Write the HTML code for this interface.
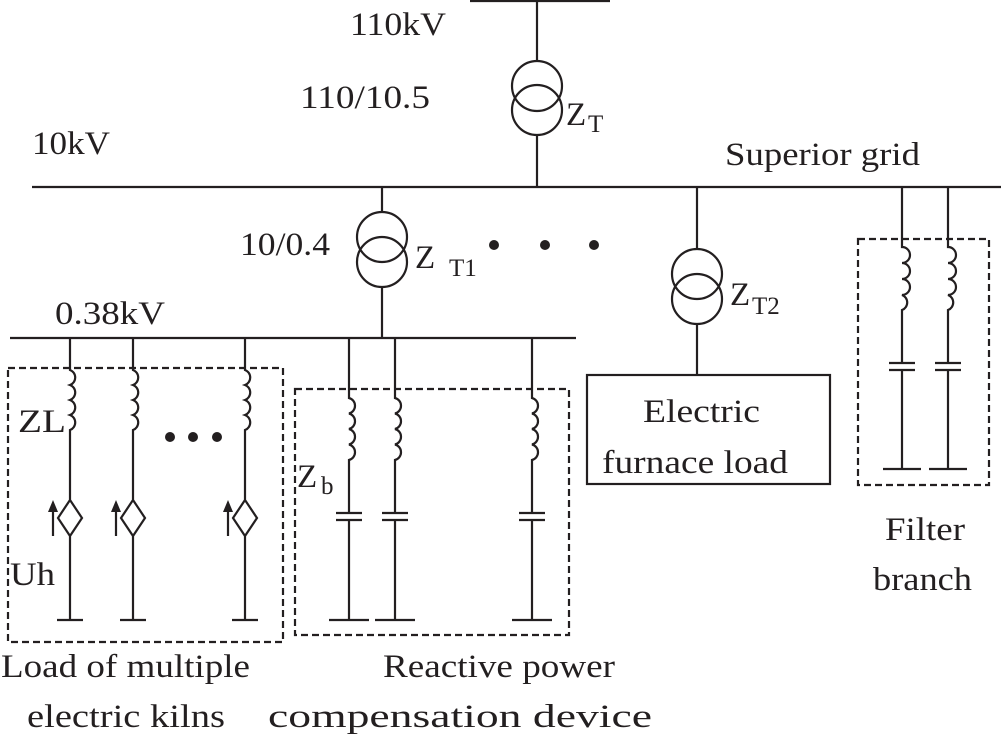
<!DOCTYPE html>
<html><head><meta charset="utf-8"><style>
html,body{margin:0;padding:0;background:#fff;}
svg{display:block;}
</style></head><body>
<svg width="1001" height="739" viewBox="0 0 1001 739" xmlns="http://www.w3.org/2000/svg">
<g stroke="#231f20" stroke-width="2.2" fill="none">
<line x1="470" y1="1" x2="610" y2="1"/>
<line x1="32" y1="187" x2="1001" y2="187"/>
<line x1="10" y1="338" x2="576" y2="338"/>
<line x1="537" y1="1" x2="537" y2="61"/>
<circle cx="537" cy="86" r="25"/>
<circle cx="537" cy="110" r="25"/>
<line x1="537" y1="135" x2="537" y2="187"/>
<line x1="382" y1="187" x2="382" y2="212"/>
<circle cx="382" cy="237" r="25"/>
<circle cx="382" cy="262" r="25"/>
<line x1="382" y1="287" x2="382" y2="338"/>
<line x1="697" y1="187" x2="697" y2="249"/>
<circle cx="697" cy="274" r="25"/>
<circle cx="697" cy="299" r="25"/>
<line x1="697" y1="324" x2="697" y2="375"/>
<rect x="587" y="375" width="243" height="109"/>
<path d="M902 187 V247 a8 8 0 0 1 0 16 a8 8 0 0 1 0 16 a8 8 0 0 1 0 16 a8 8 0 0 1 0 15 V363 M889 363 H915 M889 370 H915 M902 370 V469 M883 469 H921"/>
<path d="M948 187 V247 a8 8 0 0 1 0 16 a8 8 0 0 1 0 16 a8 8 0 0 1 0 16 a8 8 0 0 1 0 15 V363 M935 363 H961 M935 370 H961 M948 370 V469 M929 469 H967"/>
<rect x="858" y="239" width="131" height="246" stroke-dasharray="7,4"/>
<path d="M349 338 V398 a8 8 0 0 1 0 15.5 a8 8 0 0 1 0 15.5 a8 8 0 0 1 0 15.5 a8 8 0 0 1 0 15.5 V513 M336 513 H362 M336 520 H362 M349 520 V620 M329 620 H369"/>
<path d="M395 338 V398 a8 8 0 0 1 0 15.5 a8 8 0 0 1 0 15.5 a8 8 0 0 1 0 15.5 a8 8 0 0 1 0 15.5 V513 M382 513 H408 M382 520 H408 M395 520 V620 M375 620 H415"/>
<path d="M532 338 V398 a8 8 0 0 1 0 15.5 a8 8 0 0 1 0 15.5 a8 8 0 0 1 0 15.5 a8 8 0 0 1 0 15.5 V513 M519 513 H545 M519 520 H545 M532 520 V620 M512 620 H552"/>
<rect x="295" y="389" width="274" height="246" stroke-dasharray="7,4"/>
<path d="M70 338 V370 a8 8 0 0 1 0 15 a8 8 0 0 1 0 15 a8 8 0 0 1 0 15 a8 8 0 0 1 0 15 V500 M70 536 V620 M57 620 H83 M70 500 L82 518 L70 536 L58 518 Z"/>
<path d="M133 338 V370 a8 8 0 0 1 0 15 a8 8 0 0 1 0 15 a8 8 0 0 1 0 15 a8 8 0 0 1 0 15 V500 M133 536 V620 M120 620 H146 M133 500 L145 518 L133 536 L121 518 Z"/>
<path d="M245 338 V370 a8 8 0 0 1 0 15 a8 8 0 0 1 0 15 a8 8 0 0 1 0 15 a8 8 0 0 1 0 15 V500 M245 536 V620 M232 620 H258 M245 500 L257 518 L245 536 L233 518 Z"/>
<path d="M53 536 V510 M116 536 V510 M228 536 V510"/>
<rect x="8" y="368" width="275" height="274" stroke-dasharray="7,4"/>
</g>
<g fill="#231f20">
<path d="M53 500 l-5 12 h10 z M116 500 l-5 12 h10 z M228 500 l-5 12 h10 z"/>
<circle cx="170" cy="437" r="5"/><circle cx="193" cy="437" r="5"/><circle cx="217" cy="437" r="5"/>
<circle cx="494" cy="245" r="5"/><circle cx="545" cy="245" r="5"/><circle cx="594" cy="245" r="5"/>
</g>
<g font-size="33" font-family="'Liberation Serif', 'Times New Roman', serif" fill="#231f20">
<text x="350" y="35" textLength="96" lengthAdjust="spacingAndGlyphs">110kV</text>
<text x="300" y="108" textLength="130" lengthAdjust="spacingAndGlyphs">110/10.5</text>
<text x="566" y="125">Z</text><text x="588" y="132" font-size="25">T</text>
<text x="32" y="154" textLength="78" lengthAdjust="spacingAndGlyphs">10kV</text>
<text x="725" y="165" textLength="195" lengthAdjust="spacingAndGlyphs">Superior grid</text>
<text x="240" y="255" textLength="90" lengthAdjust="spacingAndGlyphs">10/0.4</text>
<text x="415" y="268">Z</text><text x="449" y="276" font-size="25">T1</text>
<text x="55" y="324" textLength="110" lengthAdjust="spacingAndGlyphs">0.38kV</text>
<text x="730" y="305">Z</text><text x="752" y="314" font-size="25">T2</text>
<text x="18" y="432" textLength="48" lengthAdjust="spacingAndGlyphs">ZL</text>
<text x="10" y="585" textLength="45" lengthAdjust="spacingAndGlyphs">Uh</text>
<text x="297" y="487">Z</text><text x="321" y="494" font-size="25">b</text>
<text x="643" y="422" textLength="117" lengthAdjust="spacingAndGlyphs">Electric</text>
<text x="602" y="473" textLength="186" lengthAdjust="spacingAndGlyphs">furnace load</text>
<text x="885" y="540" textLength="80" lengthAdjust="spacingAndGlyphs">Filter</text>
<text x="873" y="590" textLength="99" lengthAdjust="spacingAndGlyphs">branch</text>
<text x="1" y="677" textLength="249" lengthAdjust="spacingAndGlyphs">Load of multiple</text>
<text x="27" y="727" textLength="198" lengthAdjust="spacingAndGlyphs">electric kilns</text>
<text x="383" y="677" textLength="232" lengthAdjust="spacingAndGlyphs">Reactive power</text>
<text x="268" y="727" textLength="384" lengthAdjust="spacingAndGlyphs">compensation device</text>
</g>
</svg>
</body></html>
